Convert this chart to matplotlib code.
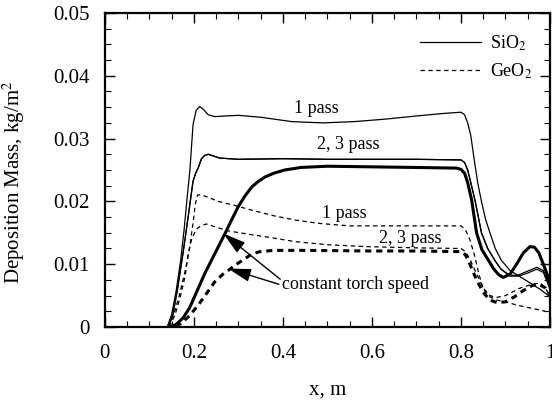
import matplotlib
matplotlib.use("Agg")
import matplotlib.pyplot as plt
from matplotlib.ticker import MultipleLocator

plt.rcParams["font.family"] = ["Liberation Serif", "DejaVu Serif"]
plt.rcParams["mathtext.fontset"] = "stix"

# ---- data ----
# SiO2, 1 pass
sio2_1_x = [0.14, 0.15, 0.16, 0.17, 0.178, 0.184, 0.191, 0.198, 0.205, 0.213,
            0.222, 0.232, 0.247, 0.27, 0.30, 0.35, 0.42, 0.49, 0.56, 0.63,
            0.70, 0.76, 0.80, 0.808, 0.815, 0.822, 0.83, 0.838, 0.846, 0.855,
            0.865, 0.877, 0.89, 0.91, 0.933, 0.96, 0.98, 1.0]
sio2_1_y = [0, 0.002, 0.0057, 0.0105, 0.0155, 0.0200, 0.0250, 0.0322, 0.0345, 0.0351,
            0.0346, 0.0338, 0.0335, 0.0336, 0.0337, 0.0334, 0.0327, 0.0325, 0.0327, 0.0331,
            0.0336, 0.0340, 0.0342, 0.0338, 0.0325, 0.0305, 0.0265, 0.0228, 0.0200, 0.0172,
            0.0150, 0.0125, 0.0107, 0.0090, 0.0080, 0.0068, 0.0059, 0.0048]

# SiO2, 2 and 3 pass
sio2_23_x = [0.143, 0.153, 0.163, 0.175, 0.187, 0.198, 0.204, 0.21, 0.217, 0.224,
             0.232, 0.245, 0.258, 0.30, 0.40, 0.50, 0.60, 0.70, 0.80, 0.808,
             0.815, 0.822, 0.832, 0.846, 0.86, 0.876, 0.89, 0.91, 0.93, 0.95,
             0.97, 0.985, 1.0]
sio2_2_y = [0, 0.002, 0.006, 0.0115, 0.0175, 0.0232, 0.0245, 0.0254, 0.0268, 0.0273,
            0.0275, 0.0272, 0.0269, 0.0267, 0.0268, 0.0267, 0.0267, 0.0267, 0.0266, 0.0262,
            0.0250, 0.0230, 0.0200, 0.0150, 0.0125, 0.0106, 0.0092, 0.0082, 0.0083, 0.0089,
            0.0095, 0.0090, 0.0064]
sio2_3_y = [0, 0.002, 0.006, 0.0115, 0.0175, 0.0232, 0.0245, 0.0254, 0.0268, 0.0273,
            0.0275, 0.0272, 0.0269, 0.0267, 0.0268, 0.0267, 0.0267, 0.0267, 0.0266, 0.0262,
            0.0250, 0.0230, 0.0200, 0.0150, 0.0125, 0.0106, 0.0092, 0.0081, 0.0081, 0.0086,
            0.0092, 0.0087, 0.0060]

# SiO2, constant torch speed
sio2_c_x = [0.145, 0.16, 0.175, 0.19, 0.205, 0.225, 0.24, 0.255, 0.27, 0.285,
            0.30, 0.315, 0.33, 0.345, 0.36, 0.38, 0.404, 0.44, 0.50, 0.60,
            0.70, 0.79, 0.80, 0.808, 0.815, 0.824, 0.835, 0.847, 0.861, 0.873,
            0.885, 0.895, 0.91, 0.925, 0.94, 0.955, 0.965, 0.975, 0.985, 0.993, 1.0]
sio2_c_y = [0, 0.0004, 0.0014, 0.0030, 0.0054, 0.0086, 0.0107, 0.0128, 0.0149, 0.0171,
            0.0192, 0.0209, 0.0223, 0.0232, 0.0239, 0.0245, 0.0250, 0.0254, 0.0256, 0.0255,
            0.0254, 0.0253, 0.0251, 0.0245, 0.0230, 0.0202, 0.0150, 0.0123, 0.0107, 0.0093,
            0.0083, 0.0079, 0.0084, 0.0100, 0.0118, 0.0128, 0.0127, 0.0118, 0.0100, 0.0085, 0.0068]

# GeO2, 1 pass
geo2_1_x = [0.143, 0.155, 0.167, 0.18, 0.19, 0.198, 0.203, 0.208, 0.215, 0.23,
            0.255, 0.29, 0.33, 0.38, 0.43, 0.48, 0.55, 0.65, 0.75, 0.80,
            0.81, 0.82, 0.83, 0.84, 0.85, 0.865, 0.88, 0.90, 0.925, 0.95, 0.978, 1.0]
geo2_1_y = [0, 0.002, 0.005, 0.0088, 0.0125, 0.0165, 0.0195, 0.0210, 0.0211, 0.0207,
            0.0200, 0.0194, 0.0186, 0.0177, 0.0170, 0.0165, 0.0161, 0.0161, 0.0161, 0.0161,
            0.0155, 0.0139, 0.0115, 0.0085, 0.0060, 0.0048, 0.0043, 0.0040, 0.0035, 0.0031, 0.0027, 0.0023]

# GeO2, 2 and 3 pass
geo2_23_x = [0.145, 0.158, 0.17, 0.18, 0.187, 0.195, 0.205, 0.215, 0.228, 0.25,
             0.277, 0.32, 0.367, 0.427, 0.50, 0.588, 0.70, 0.80, 0.81, 0.82,
             0.835, 0.85, 0.865, 0.88, 0.90, 0.933, 0.96, 0.978, 0.99, 1.0]
geo2_23_y = [0, 0.002, 0.005, 0.008, 0.0115, 0.014, 0.0155, 0.0161, 0.0164, 0.0159,
             0.0153, 0.0148, 0.0143, 0.0136, 0.0131, 0.0128, 0.0126, 0.0125, 0.0120, 0.0108,
             0.0085, 0.0062, 0.0050, 0.0047, 0.0050, 0.0062, 0.0068, 0.0070, 0.0062, 0.0048]

# GeO2, constant torch speed
geo2_c_x = [0.16, 0.175, 0.19, 0.21, 0.228, 0.247, 0.265, 0.281, 0.298, 0.315,
            0.33, 0.348, 0.38, 0.45, 0.60, 0.70, 0.80, 0.81, 0.82, 0.835,
            0.85, 0.865, 0.88, 0.90, 0.92, 0.94, 0.96, 0.975, 0.99, 1.0]
geo2_c_y = [0, 0.0008, 0.0018, 0.0035, 0.0053, 0.0072, 0.0084, 0.0092, 0.0101, 0.0109,
            0.0116, 0.0120, 0.0122, 0.0122, 0.0121, 0.0121, 0.0120, 0.0115, 0.0100, 0.0075,
            0.0055, 0.0043, 0.0039, 0.0040, 0.0048, 0.0058, 0.0066, 0.0068, 0.0062, 0.0052]

fig = plt.figure(figsize=(5.52, 4.11), dpi=100)
ax = fig.add_axes([0.190, 0.2044, 0.8064, 0.764])

thin = 0.9
thick = 2.2
dot = (0, (3.5, 2.8))
dash = (0, (2.0, 1.6))

l_si, = ax.plot(sio2_1_x, sio2_1_y, color="black", lw=thin)
ax.plot(sio2_23_x, sio2_2_y, color="black", lw=thin)
ax.plot(sio2_23_x, sio2_3_y, color="black", lw=thin)
ax.plot(sio2_c_x, sio2_c_y, color="black", lw=thick)

l_ge, = ax.plot(geo2_1_x, geo2_1_y, color="black", lw=thin, linestyle=dot)
ax.plot(geo2_23_x, geo2_23_y, color="black", lw=thin, linestyle=dot)
ax.plot(geo2_c_x, geo2_c_y, color="black", lw=thick, linestyle=dash)

ax.set_xlim(0, 1)
ax.set_ylim(0, 0.05)
ax.xaxis.set_major_locator(MultipleLocator(0.2))
ax.xaxis.set_minor_locator(MultipleLocator(0.05))
ax.yaxis.set_major_locator(MultipleLocator(0.01))
ax.yaxis.set_minor_locator(MultipleLocator(0.0025))
ax.xaxis.set_major_formatter(plt.FuncFormatter(lambda v, p: "%g" % round(v, 2)))
ax.yaxis.set_major_formatter(plt.FuncFormatter(lambda v, p: "%g" % round(v, 3)))

ax.tick_params(which="both", direction="in", top=True, right=True, labelsize=15)
ax.tick_params(which="major", length=7, width=1)
ax.tick_params(which="minor", length=4, width=0.8)
ax.tick_params(axis="x", pad=12)
ax.tick_params(axis="y", pad=11)
for s in ax.spines.values():
    s.set_linewidth(1.6)

ax.set_xlabel("x, m", fontsize=15)
ax.set_ylabel("Deposition Mass, kg/m$^2$", fontsize=15)
ax.xaxis.set_label_coords(0.5, -0.17)
ax.yaxis.set_label_coords(-0.175, 0.46)

fs = 13
ax.text(0.476, 0.0348, "1 pass", fontsize=fs, ha="center", va="center")
ax.text(0.547, 0.0290, "2, 3 pass", fontsize=fs, ha="center", va="center")
ax.text(0.539, 0.0181, "1 pass", fontsize=fs, ha="center", va="center")
ax.text(0.685, 0.0141, "2, 3 pass", fontsize=fs, ha="center", va="center")
ax.text(0.397, 0.0068, "constant torch speed", fontsize=fs, ha="left", va="center")

aprops = dict(arrowstyle="-|>,head_length=1.4,head_width=0.4", color="black",
              lw=1.0, shrinkA=0, shrinkB=0, mutation_scale=10)
ax.annotate("", xy=(0.266, 0.0149), xytext=(0.394, 0.0076), arrowprops=aprops)
ax.annotate("", xy=(0.277, 0.0093), xytext=(0.391, 0.0068), arrowprops=aprops)

ax.legend([l_si, l_ge], ["SiO$_2$", "GeO$_2$"], loc="upper right",
          bbox_to_anchor=(0.997, 0.987), frameon=False, fontsize=fs,
          handlelength=3.4, handletextpad=0.5, labelspacing=0.5)

fig.savefig("out.png", dpi=100)
